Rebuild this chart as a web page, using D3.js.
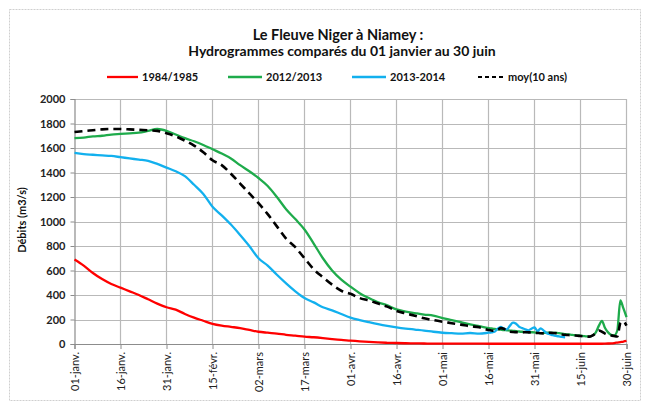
<!DOCTYPE html>
<html><head><meta charset="utf-8">
<script src="https://cdn.jsdelivr.net/npm/d3@7/dist/d3.min.js"></script>
<style>body{margin:0;background:#fff}svg{display:block}</style>
</head><body>
<script>
// ---- DATA ----
const tickDays = [0,15,30,45,60,75,90,105,120,135,150,165,180];
const tickLabels = ["01-janv.","16-janv.","31-janv.","15-févr.","02-mars","17-mars","01-avr.","16-avr.","01-mai","16-mai","31-mai","15-juin","30-juin"];
const yTicks = [0,200,400,600,800,1000,1200,1400,1600,1800,2000];
const seriesNames = ["1984/1985","2012/2013","2013-2014","moy(10 ans)"];

// day index (0 = 01-janv.)
const days = [0,3,6,9,12,15,18,21,24,27,30,33,36,39,42,45,48,51,54,57,60,63,66,69,72,75,78,81,84,87,90,93,96,99,102,105,108,111,114,117,120,123,126,129,132,
  135,136,137,138,139,140,141,142,143,144,145,146,147,148,149,150,151,152,153,154,155,156,157,158,159,160,161,162,163,164,165,166,167,168,169,170,171,172,173,174,175,176,177,178,179,180];

const red1984 = [690,640,580,530,490,460,430,400,365,330,300,280,245,215,190,165,150,140,130,115,100,92,85,75,68,60,55,48,40,33,28,22,17,13,10,8,6,5,4,3,3,3,3,3,3,
  2,2,2,2,2,2,2,2,2,2,2,2,2,2,2,2,2,2,2,2,2,2,2,2,2,2,2,2,2,2,2,2,2,2,2,2,2,2,3,4,5,8,12,16,20,25];

const green2012 = [1680,1685,1695,1700,1710,1715,1720,1725,1740,1755,1740,1710,1680,1655,1625,1590,1555,1515,1460,1410,1355,1290,1200,1100,1020,935,820,700,600,525,468,415,375,340,315,282,265,252,240,232,212,195,178,160,145,
  130,127,124,120,117,114,112,110,107,105,102,100,99,97,96,95,92,88,90,92,93,90,92,88,85,80,78,75,72,70,68,65,62,60,70,95,150,188,130,95,75,70,110,355,290,220];

const blue2013 = [1560,1550,1545,1540,1535,1525,1515,1505,1495,1470,1440,1410,1370,1300,1225,1120,1050,975,890,800,700,640,565,495,430,375,340,300,275,245,215,195,178,162,148,136,126,118,110,100,92,88,85,90,85,
  92,95,100,125,140,125,120,150,175,165,140,130,120,112,125,135,105,128,110,88,80,72,66,62,58,55,null,null,null,null,null,null,null,null,null,null,null,null,null,null,null,null,null,null,null,null];

const moy10 = [1730,1738,1745,1752,1755,1755,1752,1748,1745,1740,1720,1695,1660,1620,1565,1500,1460,1390,1310,1230,1150,1060,960,860,790,700,610,545,485,435,410,375,355,330,305,270,250,230,210,195,182,170,158,145,136,
  115,110,108,115,130,125,105,100,98,97,96,95,96,95,94,92,90,88,87,90,92,90,88,82,78,75,73,72,70,68,65,63,61,60,70,90,110,100,85,75,70,65,62,170,185,150];

// ---- CHART ----
const W = 647, H = 410;
const svg = d3.select("body").append("svg").attr("width", W).attr("height", H);
const font = "Lato, 'Open Sans', sans-serif";

svg.append("rect").attr("x",9.5).attr("y",9.5).attr("width",631).attr("height",391)
  .attr("fill","#fff").attr("stroke","#cfcfcf").attr("stroke-dasharray","2,1");

const x = d3.scaleLinear().domain([0,180]).range([74.5,626.5]);
const y = d3.scaleLinear().domain([0,2000]).range([344,99]);

// gridlines
const grid = svg.append("g");
grid.selectAll("line.h").data(yTicks.filter(v=>v>0)).join("line")
  .attr("x1",x(0)).attr("x2",x(180)).attr("y1",d=>Math.round(y(d))+0.5).attr("y2",d=>Math.round(y(d))+0.5)
  .attr("stroke","#b9b9b9").attr("stroke-width",1.2);
grid.selectAll("line.v").data(tickDays.filter(v=>v>0)).join("line")
  .attr("x1",d=>x(d)).attr("x2",d=>x(d)).attr("y1",y(2000)).attr("y2",y(0))
  .attr("stroke","#b9b9b9").attr("stroke-width",1.2);

// axes
const yAxis = svg.append("g").attr("transform",`translate(${x(0)},0)`)
  .call(d3.axisLeft(y).tickValues(yTicks).tickSize(4).tickPadding(5).tickFormat(d3.format("d")));
const xAxis = svg.append("g").attr("transform",`translate(0,${y(0)})`)
  .call(d3.axisBottom(x).tickValues(tickDays).tickSize(5).tickFormat((d,i)=>tickLabels[i]));
[yAxis,xAxis].forEach(a=>{
  a.select(".domain").attr("stroke","#8c8c8c").attr("stroke-width",1.2);
  a.selectAll(".tick line").attr("stroke","#8c8c8c");
});
yAxis.selectAll("text").attr("font-family",font).attr("font-size",11).attr("font-weight","bold").attr("fill","#222");
xAxis.selectAll("text").attr("font-family",font).attr("font-size",11).attr("fill","#222")
  .attr("transform","rotate(-90)").attr("text-anchor","end").attr("x",-8).attr("y",0).attr("dy","0.35em");

// lines
const colors = ["#ff0000","#1eab4b","#12b0ee","#000000"];
const dataSets = [red1984, green2012, blue2013, moy10];
const line = d3.line().defined(d=>d[1]!=null).x(d=>x(d[0])).y(d=>y(d[1])).curve(d3.curveMonotoneX);
const plot = svg.append("g");
dataSets.forEach((vals,i)=>{
  plot.append("path").datum(days.map((d,j)=>[d,vals[j]]))
    .attr("d",line).attr("fill","none").attr("stroke",colors[i])
    .attr("stroke-width", i===3 ? 2.6 : 2.3)
    .attr("stroke-dasharray", i===3 ? "8,5" : null)
    .attr("stroke-linejoin","round");
});

// titles
svg.append("text").attr("x",338).attr("y",40).attr("text-anchor","middle")
  .attr("font-family",font).attr("font-size",14.5).attr("font-weight","bold").attr("fill","#111")
  .text("Le Fleuve Niger à Niamey :");
svg.append("text").attr("x",342).attr("y",56).attr("text-anchor","middle")
  .attr("font-family",font).attr("font-size",14).attr("font-weight","bold").attr("fill","#111")
  .text("Hydrogrammes comparés du 01 janvier au 30 juin");

// y title
svg.append("text").attr("transform","translate(26,220) rotate(-90)").attr("text-anchor","middle")
  .attr("font-family",font).attr("font-size",11).attr("font-weight","bold").attr("fill","#111")
  .text("Débits (m3/s)");

// legend
const legX = [[107,138,142],[228,262,266],[352,386,390],[478,503,508]];
const lg = svg.append("g");
seriesNames.forEach((n,i)=>{
  lg.append("line").attr("x1",legX[i][0]).attr("x2",legX[i][1]).attr("y1",77).attr("y2",77)
    .attr("stroke",colors[i]).attr("stroke-width",i===3?2.2:2.3)
    .attr("stroke-dasharray", i===3 ? "4,3" : null);
  lg.append("text").attr("x",legX[i][2]).attr("y",77).attr("dy","0.35em")
    .attr("font-family",font).attr("font-size",11).attr("font-weight","bold").attr("fill","#111")
    .text(n);
});
</script>
</body></html>
